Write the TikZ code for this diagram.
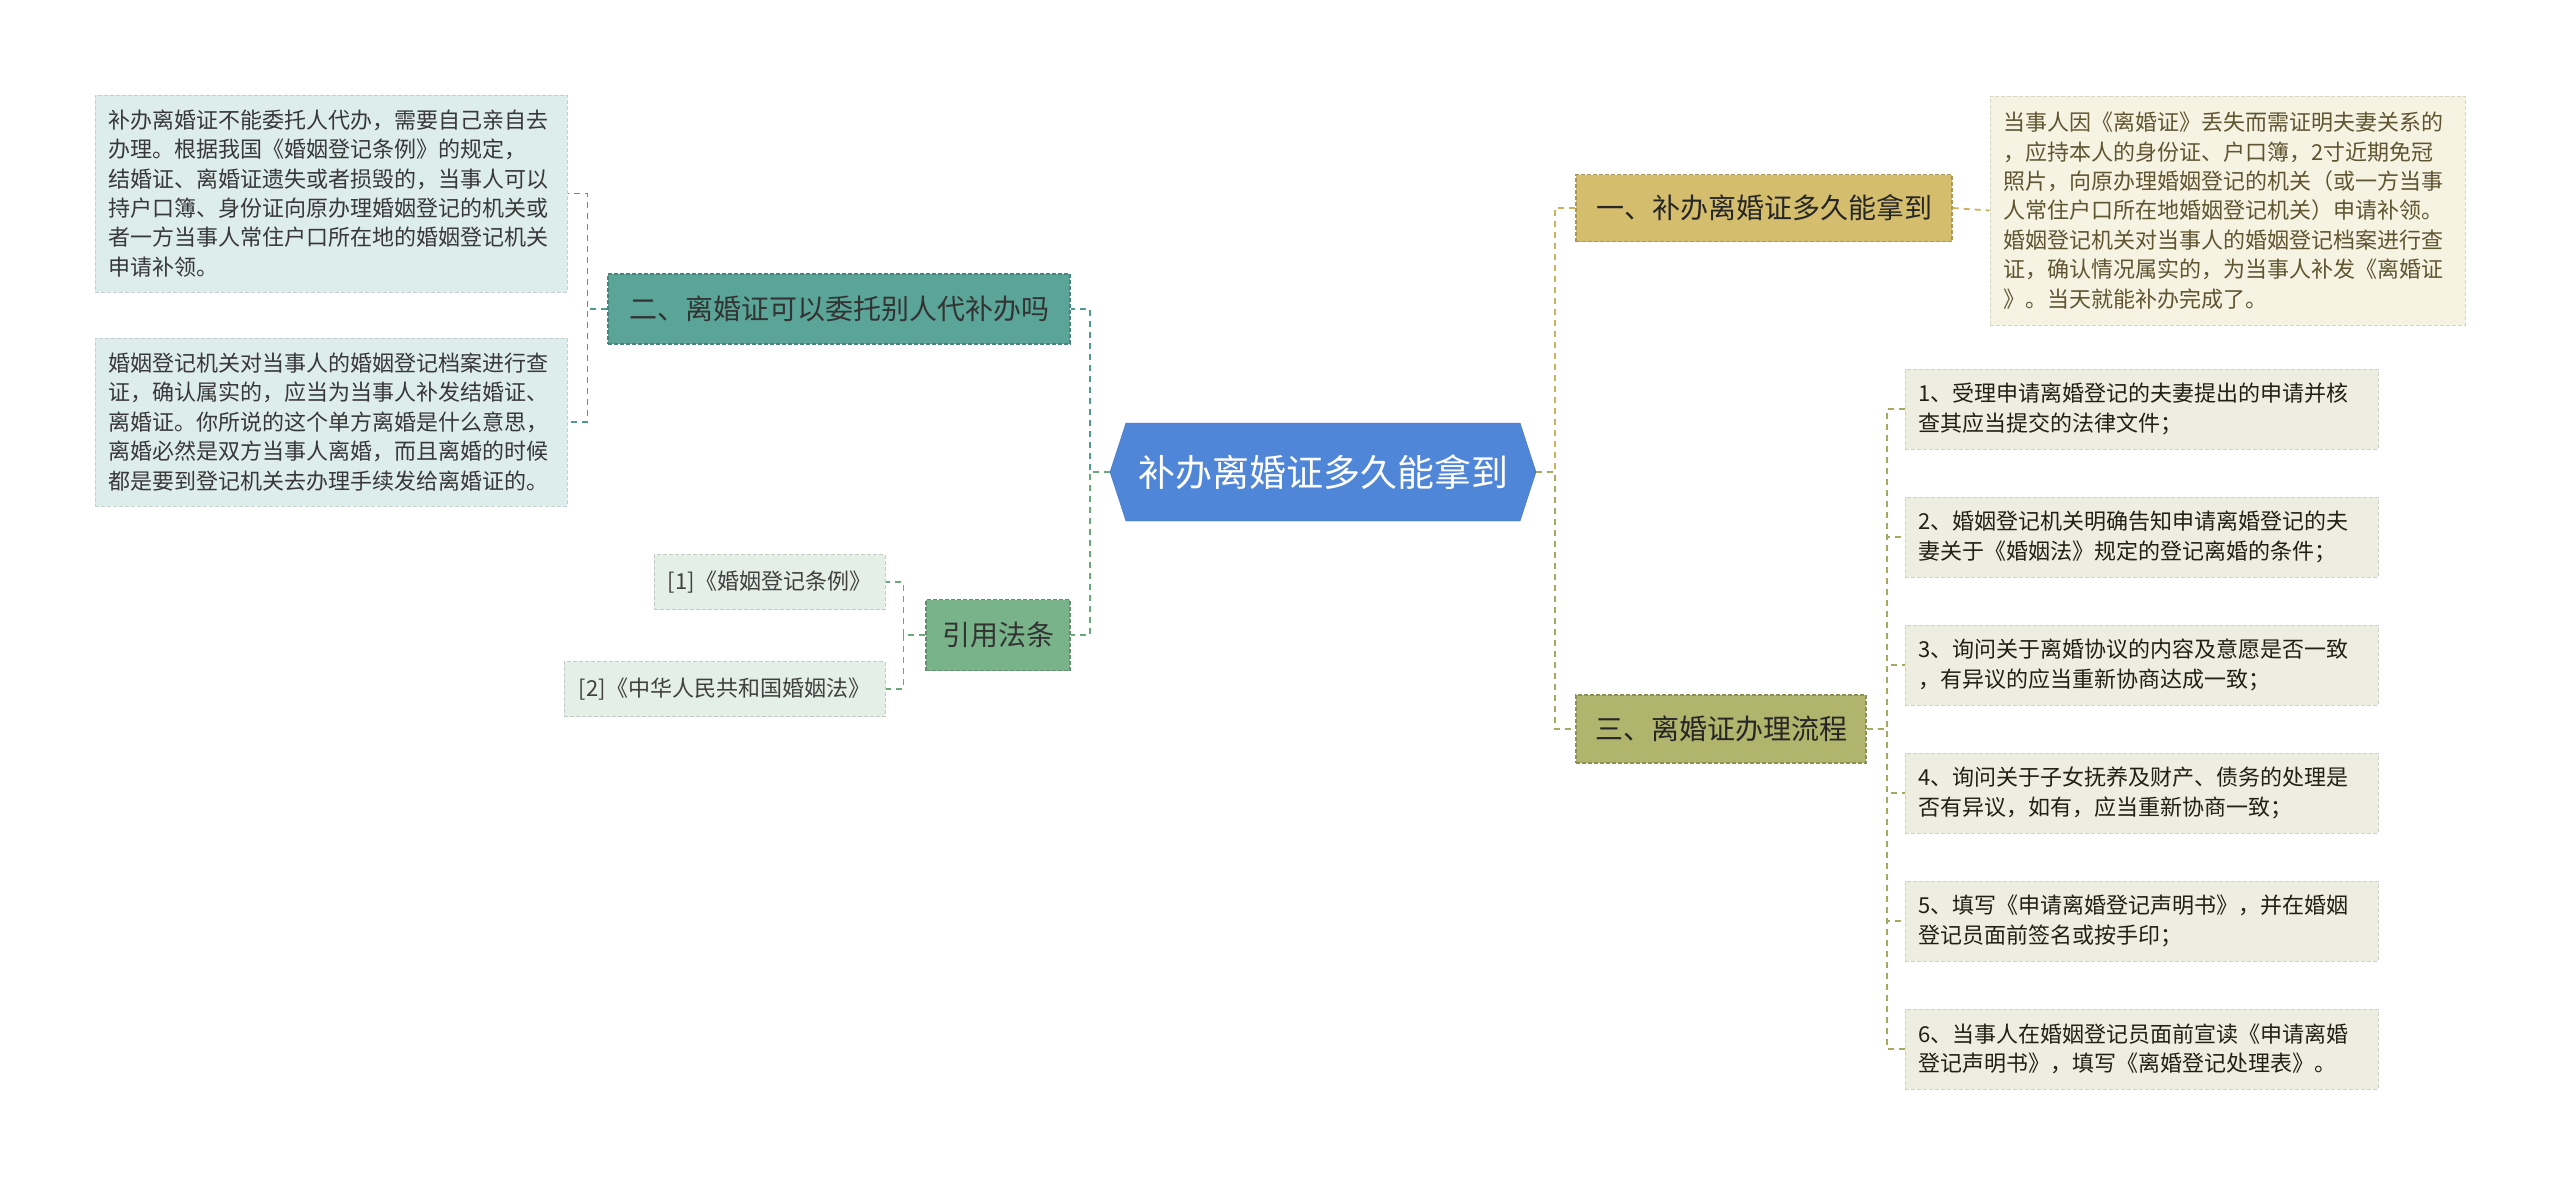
\documentclass[tikz,border=0pt]{standalone}
\usepackage{fontspec}
\setmainfont{Noto Sans CJK SC}
\usetikzlibrary{shapes.symbols}

\definecolor{rootblue}{HTML}{4F86D8}
\definecolor{tealfill}{HTML}{5AA597}
\definecolor{tealline}{HTML}{4F9A8C}
\definecolor{tealleaf}{HTML}{DDEDEB}
\definecolor{greenfill}{HTML}{79B38A}
\definecolor{greenline}{HTML}{6AA87B}
\definecolor{greenleaf}{HTML}{E3EFE7}
\definecolor{goldfill}{HTML}{D4BD6D}
\definecolor{goldline}{HTML}{C9B35E}
\definecolor{goldleaf}{HTML}{F6F3E3}
\definecolor{olivefill}{HTML}{B0B46C}
\definecolor{oliveline}{HTML}{A6AA60}
\definecolor{oliveleaf}{HTML}{EEEEE0}

\tikzset{
  link/.style={dash pattern=on 6pt off 5pt, line width=1.8pt},
  topicbox/.style={dash pattern=on 4pt off 2pt, line width=1.2pt, inner sep=0pt,
    font=\fontsize{28}{34}\selectfont},
  leafbox/.style={dash pattern=on 4pt off 2pt, line width=1pt, inner xsep=13pt, inner ysep=0pt,
    align=left, font=\fontsize{22}{29.4}\selectfont},
  refbox/.style={dash pattern=on 4pt off 2pt, line width=1pt, inner sep=0pt,
    fill=greenleaf, draw=greenleaf!85!black, text=black!75, minimum height=55pt,
    font=\fontsize{22}{29.4}\selectfont},
  stepbox/.style={leafbox, fill=oliveleaf, draw=oliveleaf!88!black, text=black!70!olivefill!60!black,
    text width=447pt, minimum height=80pt},
}

\begin{document}
\begin{tikzpicture}[x=1pt, y=-1pt]
	\useasboundingbox (0,0) rectangle (2560,1186);

	% centre
	\node [signal, signal to=west and east, signal pointer angle=144,
		minimum width=426pt, minimum height=98pt, inner sep=0pt,
		fill=rootblue, draw=rootblue!85!black, text=white,
		font=\fontsize{37}{44}\selectfont] (root) at (1323,472) {补办离婚证多久能拿到};

	% left side
	\node [topicbox, fill=tealfill, draw=tealfill!80!black, text=black!80,
		minimum width=462pt, minimum height=70pt] (q2) at (839,309) {二、离婚证可以委托别人代补办吗};
	\node [topicbox, fill=greenfill, draw=greenfill!80!black, text=black!80,
		minimum width=144pt, minimum height=71pt] (law) at (998,635) {引用法条};

	\node [leafbox, fill=tealleaf, draw=tealleaf!88!black, text=black!78,
		text width=446pt, minimum height=197pt] (l1) at (331,193.5)
		{补办离婚证不能委托人代办，需要自己亲自去\\办理。根据我国《婚姻登记条例》的规定，\\结婚证、离婚证遗失或者损毁的，当事人可以\\持户口簿、身份证向原办理婚姻登记的机关或\\者一方当事人常住户口所在地的婚姻登记机关\\申请补领。};
	\node [leafbox, fill=tealleaf, draw=tealleaf!88!black, text=black!78,
		text width=446pt, minimum height=168pt] (l2) at (331,422)
		{婚姻登记机关对当事人的婚姻登记档案进行查\\证，确认属实的，应当为当事人补发结婚证、\\离婚证。你所说的这个单方离婚是什么意思，\\离婚必然是双方当事人离婚，而且离婚的时候\\都是要到登记机关去办理手续发给离婚证的。};

	\node [refbox, minimum width=231pt] (r1) at (769.5,582) {[1]《婚姻登记条例》};
	\node [refbox, minimum width=321pt] (r2) at (724.5,689) {[2]《中华人民共和国婚姻法》};

	% right side
	\node [topicbox, fill=goldfill, draw=goldfill!80!black, text=black!85,
		minimum width=376pt, minimum height=67pt] (q1) at (1764,208) {一、补办离婚证多久能拿到};
	\node [topicbox, fill=olivefill, draw=olivefill!80!black, text=black!85,
		minimum width=290pt, minimum height=68pt] (q3) at (1721,729) {三、离婚证办理流程};

	\node [leafbox, fill=goldleaf, draw=goldleaf!88!black, text=goldfill!45!black,
		text width=449pt, minimum height=229pt] (a1) at (2227.5,210.5)
		{当事人因《离婚证》丢失而需证明夫妻关系的\\，应持本人的身份证、户口簿，2寸近期免冠\\照片，向原办理婚姻登记的机关（或一方当事\\人常住户口所在地婚姻登记机关）申请补领。\\婚姻登记机关对当事人的婚姻登记档案进行查\\证，确认情况属实的，为当事人补发《离婚证\\》。当天就能补办完成了。};

	\foreach \i/\y/\txt in {
		1/409/{1、受理申请离婚登记的夫妻提出的申请并核\\查其应当提交的法律文件；},
		2/537/{2、婚姻登记机关明确告知申请离婚登记的夫\\妻关于《婚姻法》规定的登记离婚的条件；},
		3/665/{3、询问关于离婚协议的内容及意愿是否一致\\，有异议的应当重新协商达成一致；},
		4/793/{4、询问关于子女抚养及财产、债务的处理是\\否有异议，如有，应当重新协商一致；},
		5/921/{5、填写《申请离婚登记声明书》，并在婚姻\\登记员面前签名或按手印；},
		6/1049/{6、当事人在婚姻登记员面前宣读《申请离婚\\登记声明书》，填写《离婚登记处理表》。}}
		\node [stepbox] (s\i) at (2141.5,\y) {\txt};

	% connectors
	\draw [link, tealline] (root.west) -- ++(-20,0) |- (q2.east);
	\draw [link, greenline] (root.west) -- ++(-20,0) |- (law.east);
	\draw [link, goldline] (root.east) -- ++(19,0) |- (q1.west);
	\draw [link, oliveline] (root.east) -- ++(19,0) |- (q3.west);

	\foreach \leaf in {l1,l2} \draw [link, tealline] (q2.west) -- ++(-20,0) |- (\leaf.east);
	\foreach \leaf in {r1,r2} \draw [link, greenline] (law.west) -- ++(-22,0) |- (\leaf.east);
	\draw [link, goldline] (q1.east) -- (a1.west);
	\foreach \i in {1,...,6} \draw [link, oliveline] (q3.east) -- ++(20,0) |- (s\i.west);

\end{tikzpicture}
\end{document}
